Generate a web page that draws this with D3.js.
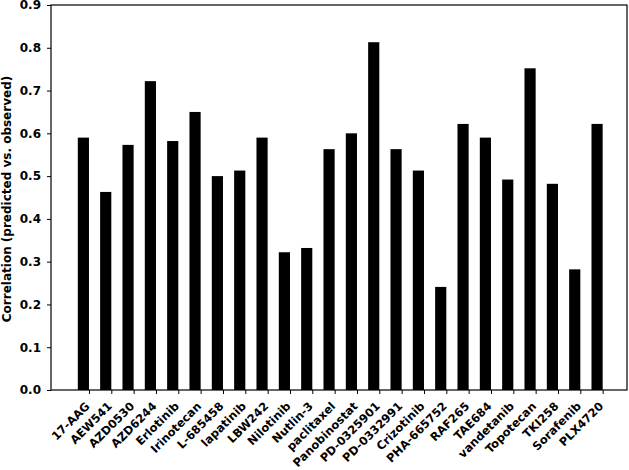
<!DOCTYPE html>
<html>
<head>
<meta charset="utf-8">
<script src="https://cdn.jsdelivr.net/npm/d3@7.9.0/dist/d3.min.js"></script>
<style>
  body { margin: 0; background: #fff; }
  svg text { font-family: "DejaVu Sans", sans-serif; font-weight: bold; }
</style>
</head>
<body>
<svg id="chart" width="629" height="470"></svg>
<script>
const drugs = ['17-AAG', 'AEW541', 'AZD0530', 'AZD6244', 'Erlotinib', 'Irinotecan',
  'L-685458', 'lapatinib', 'LBW242', 'Nilotinib', 'Nutlin-3', 'paclitaxel',
  'Panobinostat', 'PD-0325901', 'PD-0332991', 'Crizotinib', 'PHA-665752', 'RAF265',
  'TAE684', 'vandetanib', 'Topotecan', 'TKI258', 'Sorafenib', 'PLX4720'];
const correlation = [0.59, 0.463, 0.573, 0.722, 0.582, 0.65, 0.50, 0.513, 0.59, 0.322,
  0.332, 0.563, 0.60, 0.813, 0.563, 0.513, 0.241, 0.622, 0.59, 0.492, 0.752, 0.482,
  0.282, 0.622];
const yTicks = [0, 0.1, 0.2, 0.3, 0.4, 0.5, 0.6, 0.7, 0.8, 0.9];

const mLeft = 51, mRight = 627, mTop = 5, mBottom = 390;
const svg = d3.select('#chart');

// bars sit at i-0.5..i, ticks at i
let x = d3.scaleLinear().domain([-1.70, 24.09]).range([mLeft, mRight]);
let y = d3.scaleLinear().domain([0, 0.9]).range([mBottom, mTop]);

svg.selectAll('rect.bar')
  .data(correlation)
  .enter()
  .append('rect')
  .attr('class', 'bar')
  .attr('x', (d, i) => x(i - 0.5))
  .attr('width', (d, i) => x(i) - x(i - 0.5))
  .attr('y', d => y(d))
  .attr('height', d => y(0) - y(d))
  .attr('fill', '#000');

let yAxis = d3.axisLeft(y).tickValues(yTicks).tickFormat(d3.format('.1f')).tickSize(4).tickPadding(6);
let gy = svg.append('g').attr('transform', `translate(${mLeft},0)`).call(yAxis);
gy.select('.domain').remove();
gy.selectAll('text').attr('font-size', 12).attr('fill', '#000');

let xAxis = d3.axisBottom(x).tickValues(d3.range(drugs.length)).tickFormat('').tickSize(4);
let gx = svg.append('g').attr('transform', `translate(0,${mBottom})`).call(xAxis);
gx.select('.domain').remove();

svg.selectAll('text.xlabel')
  .data(drugs)
  .enter()
  .append('text')
  .attr('class', 'xlabel')
  .attr('transform', (d, i) => `translate(${x(i) - 4.5},${mBottom + 11}) rotate(-45)`)
  .attr('text-anchor', 'end')
  .attr('dy', '0.73em')
  .attr('font-size', 11.5)
  .attr('fill', '#000')
  .text(d => d);

// frame
svg.append('rect')
  .attr('x', mLeft).attr('y', mTop)
  .attr('width', mRight - mLeft).attr('height', mBottom - mTop)
  .attr('fill', 'none').attr('stroke', '#000').attr('stroke-width', 1.2);

svg.append('text')
  .attr('transform', `translate(10.5,199) rotate(-90)`)
  .attr('text-anchor', 'middle')
  .attr('font-size', 12)
  .attr('fill', '#000')
  .text('Correlation (predicted vs. observed)');
</script>
</body>
</html>
